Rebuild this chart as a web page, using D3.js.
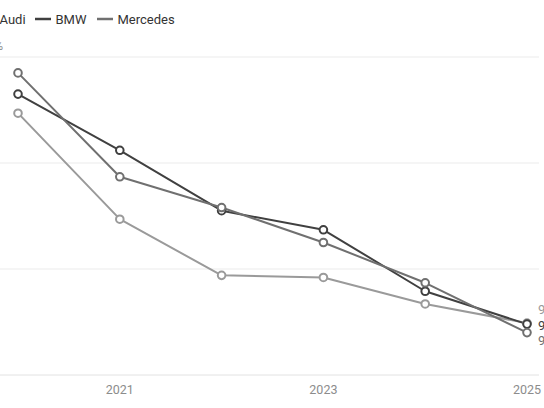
<!DOCTYPE html>
<html>
<head>
<meta charset="utf-8">
<script src="https://cdn.jsdelivr.net/npm/d3@7"></script>
<style>
  html, body { margin: 0; padding: 0; background: #fff; overflow: hidden; }
  svg { display: block; font-family: Roboto, "Open Sans", sans-serif; }
</style>
</head>
<body>
<div id="chart"></div>
<script>
// values (percent)
const years = [2020, 2021, 2022, 2023, 2024, 2025];
const audi = [114.7, 104.7, 99.4, 99.2, 96.7, 94.9];
const bmw = [116.5, 111.2, 105.5, 103.7, 97.9, 94.8];
const mercedes = [118.5, 108.7, 105.8, 102.5, 98.7, 94.0];
const yTicks = [90, 100, 110, 120];
const xTicks = [2021, 2023, 2025];

const series = [
  {name: 'Audi', values: audi, color: '#9a9a9a'},
  {name: 'BMW', values: bmw, color: '#404040'},
  {name: 'Mercedes', values: mercedes, color: '#707070'}
];

const width = 544, height = 408;

const x = d3.scaleLinear().domain([2020, 2025]).range([18, 527]);
const y = d3.scaleLinear().domain([90, 120]).range([375, 57]);

const svg = d3.select('#chart').append('svg')
              .attr('width', width)
              .attr('height', height);

// grid
const grid = svg.append('g');
grid.selectAll('line')
    .data(yTicks)
    .join('line')
    .attr('x1', -60)
    .attr('x2', 539)
    .attr('y1', d => y(d))
    .attr('y2', d => y(d))
    .attr('stroke', d => d === 90 ? '#e2e2e2' : '#ebebeb')
    .attr('stroke-width', 1);

// only the unit of the top tick label hangs into view, the rest sit left of the frame
grid.append('text')
    .attr('x', 3)
    .attr('y', y(yTicks[yTicks.length - 1]) - 7)
    .attr('text-anchor', 'end')
    .attr('fill', '#8c8c8c')
    .attr('font-size', 12)
    .text(yTicks[yTicks.length - 1] + '%');

// x axis labels
svg.append('g')
   .selectAll('text')
   .data(xTicks)
   .join('text')
   .attr('x', d => x(d))
   .attr('y', 394)
   .attr('text-anchor', 'middle')
   .attr('fill', '#8c8c8c')
   .attr('font-size', 12.5)
   .text(d => d);

// lines
const line = d3.line()
               .x((d, i) => x(years[i]))
               .y(d => y(d));

const lineG = svg.append('g').attr('fill', 'none');
lineG.selectAll('path')
     .data(series)
     .join('path')
     .attr('d', d => line(d.values))
     .attr('stroke', d => d.color)
     .attr('stroke-width', 2)
     .attr('stroke-linejoin', 'round');

const dotG = svg.append('g');
series.forEach(s => {
  dotG.append('g')
      .selectAll('circle')
      .data(s.values)
      .join('circle')
      .attr('cx', (d, i) => x(years[i]))
      .attr('cy', d => y(d))
      .attr('r', 3.8)
      .attr('fill', '#fff')
      .attr('stroke', s.color)
      .attr('stroke-width', 2);
});

// end labels, pushed apart so they don't overlap
const ends = series.map(s => ({
  s, v: s.values[s.values.length - 1], y: y(s.values[s.values.length - 1])
})).sort((a, b) => a.y - b.y);
const gap = 15.5;
const mid = d3.mean(ends, d => d.y) - 1.5;
ends.forEach((d, i) => { d.ly = mid + (i - (ends.length - 1) / 2) * gap; });

svg.append('g')
   .selectAll('text')
   .data(ends)
   .join('text')
   .attr('x', 538)
   .attr('y', d => d.ly)
   .attr('dy', '0.35em')
   .attr('fill', d => d.s.color)
   .attr('font-size', 13)
   .text(d => d3.format('.0f')(d.v) + '%');

// legend
const legend = svg.append('g')
                  .selectAll('g')
                  .data(series)
                  .join('g')
                  .attr('transform', (d, i) => `translate(${[-21, 35, 97][i]},19)`);
legend.append('line')
      .attr('x1', 0)
      .attr('x2', 16)
      .attr('stroke', d => d.color)
      .attr('stroke-width', 2.5);
legend.append('text')
      .attr('x', 20.5)
      .attr('dy', '0.35em')
      .attr('fill', '#333')
      .attr('font-size', 13)
      .text(d => d.name);
</script>
</body>
</html>
